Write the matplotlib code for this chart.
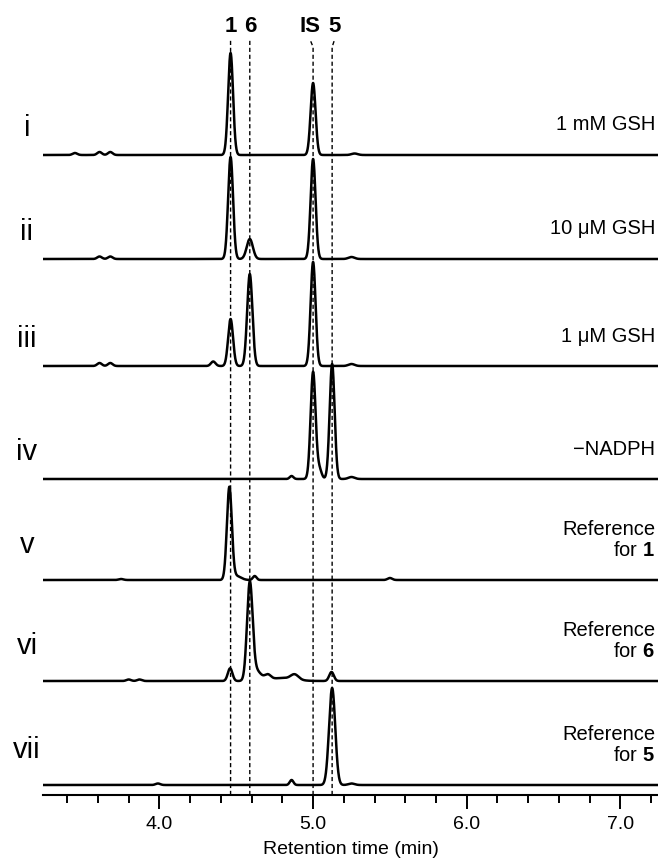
import numpy as np
import matplotlib
matplotlib.use("Agg")
import matplotlib.pyplot as plt

plt.rcParams['font.family'] = ['Liberation Sans', 'DejaVu Sans']
plt.rcParams['mathtext.fontset'] = 'custom'
plt.rcParams['mathtext.rm'] = 'Liberation Sans'
plt.rcParams['mathtext.bf'] = 'Liberation Sans:bold'

# peaks per trace: retention time (min), height (px), width (min)
t_i = [3.45, 3.61, 3.68, 4.463, 5.0, 5.27]
h_i = [2, 3, 3, 102, 72, 1.5]
w_i = [0.015, 0.015, 0.015, 0.016, 0.016, 0.02]

t_ii = [3.61, 3.68, 4.463, 4.588, 5.0, 5.25]
h_ii = [2.5, 2.5, 102, 20, 100, 2]
w_ii = [0.015, 0.015, 0.016, 0.02, 0.016, 0.02]

t_iii = [3.61, 3.68, 4.35, 4.463, 4.588, 5.0, 5.25]
h_iii = [3, 3, 4.5, 47, 92, 104, 2]
w_iii = [0.015, 0.015, 0.015, 0.016, 0.017, 0.016, 0.02]

t_iv = [4.86, 5.0, 5.04, 5.124, 5.25]
h_iv = [3, 107, 10, 115, 2]
w_iv = [0.012, 0.016, 0.015, 0.016, 0.02]

t_v = [3.75, 4.455, 4.5, 4.62, 5.5]
h_v = [1, 92, 4, 4, 2]
w_v = [0.015, 0.016, 0.03, 0.012, 0.015]

t_vi = [3.8, 3.87, 4.46, 4.588, 4.63, 4.705, 4.8, 4.88, 5.12]
h_vi = [1.5, 1.5, 12.7, 96, 10, 5, 3, 5, 9]
w_vi = [0.015, 0.015, 0.015, 0.018, 0.03, 0.02, 0.08, 0.025, 0.015]

t_vii = [3.99, 4.86, 5.124, 5.25]
h_vii = [1.5, 5, 97, 1.5]
w_vii = [0.015, 0.012, 0.02, 0.02]

trace_peaks = [(t_i, h_i, w_i), (t_ii, h_ii, w_ii), (t_iii, h_iii, w_iii),
               (t_iv, h_iv, w_iv), (t_v, h_v, w_v), (t_vi, h_vi, w_vi),
               (t_vii, h_vii, w_vii)]
roman = ['i', 'ii', 'iii', 'iv', 'v', 'vi', 'vii']
conditions = ['1 mM GSH', '10 μM GSH', '1 μM GSH', '−NADPH',
              'Reference\nfor $\\mathbf{1}$', 'Reference\nfor $\\mathbf{6}$',
              'Reference\nfor $\\mathbf{5}$']
marker_names = ['1', '6', 'IS', '5']
marker_times = [4.463, 4.588, 5.0, 5.124]

# layout in pixels (figure is 658 x 861)
W, H = 658, 861
baselines_px = [155, 259, 366, 479, 580, 681, 785]
axis_px = 795
x0_px = 43.3

fig = plt.figure(figsize=(W / 100, H / 100), dpi=100)
ax = fig.add_axes([x0_px / W, (H - axis_px) / H, (W - x0_px) / W, axis_px / H])
ax.set_xlim(3.244, 7.245)
ax.set_ylim(0, axis_px)

x = np.linspace(3.244, 7.245, 5000)
for (ts, hs, ws), b in zip(trace_peaks, baselines_px):
    y = np.full_like(x, axis_px - b, dtype=float)
    for t, h, w in zip(ts, hs, ws):
        y += h * np.exp(-0.5 * ((x - t) / w) ** 2)
    ax.plot(x, y, color='black', lw=1.8, solid_joinstyle='round', zorder=3)

# dashed marker lines
dash = (0, (3, 2))
top_px = 39
bend_px = 47
label_x_px = [230.7, 250, 310, 335]
for t, lx in zip(marker_times, label_x_px):
    lt = 5 + (lx - 313.3) / 153.75
    ax.plot([t, t, lt], [0, axis_px - bend_px, axis_px - top_px],
            color='black', lw=1.0, linestyle=dash, zorder=2)
for name, lx in zip(marker_names, label_x_px):
    fig.text(lx / W, 1 - 26 / H, name, ha='center', va='center',
             fontsize=16, fontweight='bold')

# trace labels
for r, c, b in zip(roman, conditions, baselines_px):
    two = '\n' in c
    fig.text(27 / W, 1 - (b - 27 - (8 if two else 0)) / H, r, ha='center',
             va='center', fontsize=21)
    fig.text(655 / W, 1 - (b - (40 if two else 30)) / H, c, ha='right',
             va='center', fontsize=14.5, linespacing=1.15)

# axis styling
for s in ['top', 'right', 'left']:
    ax.spines[s].set_visible(False)
ax.spines['bottom'].set_linewidth(1.5)
ax.set_yticks([])
ax.set_xticks([4.0, 5.0, 6.0, 7.0])
ax.set_xticklabels(['4.0', '5.0', '6.0', '7.0'], fontsize=14)
ax.set_xticks(np.arange(3.4, 7.25, 0.2), minor=True)
ax.tick_params(axis='x', which='major', length=10, width=1.4, pad=5)
ax.tick_params(axis='x', which='minor', length=6, width=1.4)
fig.text(0.5 * (x0_px + W) / W, 1 - 850 / H, 'Retention time (min)',
         ha='center', va='center', fontsize=14)

fig.savefig('out.png', dpi=100)
